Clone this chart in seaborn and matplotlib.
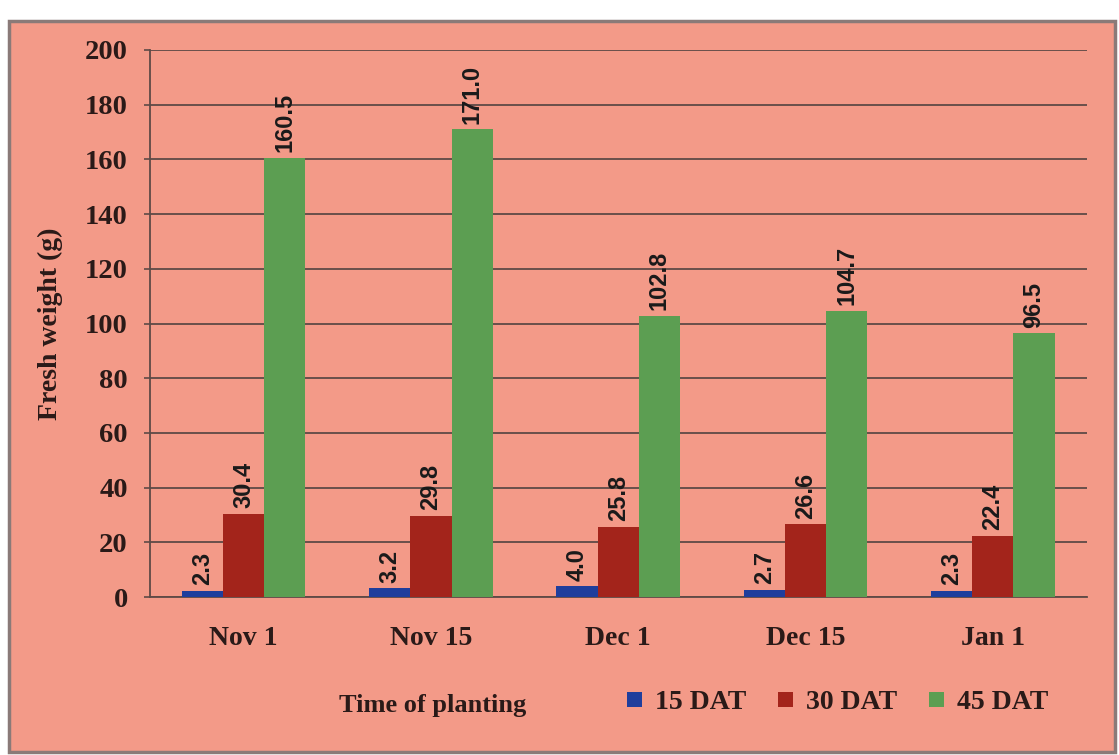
import matplotlib
matplotlib.use("Agg")
import matplotlib.pyplot as plt
from matplotlib.patches import Rectangle, Patch
import seaborn as sns
import pandas as pd

# Fresh weight (g) by time of planting and days after transplanting
planting = ["Nov 1", "Nov 15", "Dec 1", "Dec 15", "Jan 1"]
dat_15 = [2.3, 3.2, 4.0, 2.7, 2.3]
dat_30 = [30.4, 29.8, 25.8, 26.6, 22.4]
dat_45 = [160.5, 171.0, 102.8, 104.7, 96.5]
series = ["15 DAT", "30 DAT", "45 DAT"]
colors = ["#1F3E9C", "#A3241B", "#5C9E52"]

df = pd.DataFrame({
    "planting": planting * 3,
    "series": [s for s in series for _ in planting],
    "weight": dat_15 + dat_30 + dat_45,
})

sns.set_theme(style="white")
plt.rcParams["font.family"] = ["Liberation Serif", "DejaVu Serif"]

ink = "#2a1a18"
grid_c = "#5e4a46"
bg = "#F39A88"
fig = plt.figure(figsize=(11.19, 7.55), dpi=100, facecolor="white")
fig.patches.append(Rectangle((0.008, 0.004), 0.988, 0.968, transform=fig.transFigure,
                             facecolor=bg, edgecolor="#8a7a78", linewidth=2.5, zorder=-5))
ax = fig.add_axes([0.134, 0.209, 0.837, 0.725])
ax.patch.set_alpha(0)

sns.barplot(data=df, x="planting", y="weight", hue="series", hue_order=series,
            palette=colors, width=0.66, saturation=1, ax=ax, legend=False,
            edgecolor="none", zorder=3)

ax.set_ylim(0, 200)
ax.set_yticks(range(0, 201, 20))
ax.yaxis.grid(True, color=grid_c, linewidth=1.3)
ax.set_axisbelow(True)
for side in ["top", "right"]:
    ax.spines[side].set_visible(False)
for side in ["left", "bottom"]:
    ax.spines[side].set_color(grid_c)
    ax.spines[side].set_linewidth(1.3)
ax.tick_params(axis="y", length=4, color=grid_c, width=1.2, pad=12, left=True)
ax.tick_params(axis="x", length=0, pad=21)

for lab in ax.get_yticklabels():
    lab.set_fontweight("bold")
    lab.set_fontsize(20.5)
    lab.set_color(ink)
for lab in ax.get_xticklabels():
    lab.set_fontweight("bold")
    lab.set_fontsize(20)
    lab.set_color(ink)

ax.set_ylabel("Fresh weight (g)", fontsize=20, fontweight="bold", color=ink)
ax.yaxis.set_label_coords(-0.093, 0.5)
ax.set_xlabel("Time of planting", fontsize=19, fontweight="bold", color=ink)
ax.xaxis.set_label_coords(0.302, -0.176)

# value labels above each bar
for cont in ax.containers:
    ax.bar_label(cont, fmt="%.1f", rotation=90, padding=4, fontsize=17,
                 fontweight="bold", family="Liberation Sans", color="#1a1a1a")

handles = [Patch(facecolor=c, edgecolor="none") for c in colors]
leg = fig.legend(handles, series, loc="center left", bbox_to_anchor=(0.548, 0.069),
                 ncol=3, frameon=False, handlelength=0.55, handleheight=0.45,
                 handletextpad=0.45, columnspacing=1.15, borderpad=0,
                 prop={"family": "Liberation Serif", "weight": "bold", "size": 20})
for t in leg.get_texts():
    t.set_color(ink)

fig.savefig("out.png", dpi=100, facecolor="white")
